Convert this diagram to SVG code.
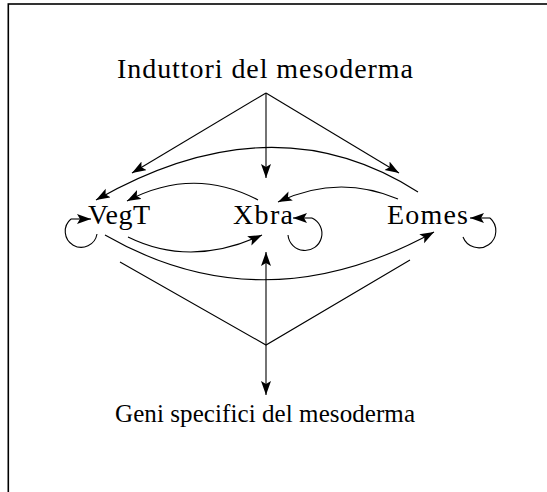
<svg xmlns="http://www.w3.org/2000/svg" width="547" height="492" viewBox="0 0 547 492">
<style>
text{font-family:"Liberation Serif","Times New Roman",serif;font-size:28px;fill:#000}
text.sm{font-size:25px}
.c{fill:none;stroke:#000;stroke-width:1.1}
.a{marker-end:url(#ah)}
</style>
<defs>
<marker id="ah" markerUnits="userSpaceOnUse" markerWidth="16" markerHeight="12" refX="14" refY="5" orient="auto">
<path d="M0,0 L14,5 L0,10 L3,5 z" fill="#000"/>
</marker>
</defs>
<rect x="0" y="0" width="547" height="492" fill="#fff"/>
<rect x="8.3" y="4" width="600" height="600" fill="none" stroke="#000" stroke-width="1.6"/>
<g id="n-induttori"><text x="265" y="78" text-anchor="middle" textLength="296" lengthAdjust="spacing">Induttori del mesoderma</text></g>
<g id="n-geni"><text class="sm" x="265" y="422" text-anchor="middle" textLength="300" lengthAdjust="spacing">Geni specifici del mesoderma</text></g>
<g id="n-vegt"><text x="88" y="224" textLength="62" lengthAdjust="spacing">VegT</text></g>
<g id="n-xbra"><text x="233" y="224" textLength="60" lengthAdjust="spacing">Xbra</text></g>
<g id="n-eomes"><text x="387" y="224" textLength="81" lengthAdjust="spacing">Eomes</text></g>
<g id="connectors">
<path class="c a" d="M266,93 L132,173"/>
<path class="c a" d="M266,93 L266,178"/>
<path class="c a" d="M266,93 L399,173"/>
<path class="c a" d="M418,192 Q273,99 96,200"/>
<path class="c a" d="M258,200 Q193.5,166 127,201"/>
<path class="c a" d="M398,199 Q338,173.5 278,202"/>
<path class="c a" d="M128,237 Q191,268 262,235"/>
<path class="c a" d="M105,235 Q263,326 434,232"/>
<path class="c" d="M120,262 L266,345 L410,260"/>
<path class="c a" d="M266,345 L266,252"/>
<path class="c a" d="M266,345 L266,395"/>
<path class="c a" d="M71,219 L91,219"/>
<path class="c" d="M97,234 A16,16 0 1 1 71,219"/>
<path class="c a" d="M312,218 L293,218"/>
<path class="c" d="M288,235 A17,17 0 1 0 312,218"/>
<path class="c a" d="M490,218 L470,218"/>
<path class="c" d="M463,237 A17,17 0 1 0 490,218"/>
</g>
</svg>
